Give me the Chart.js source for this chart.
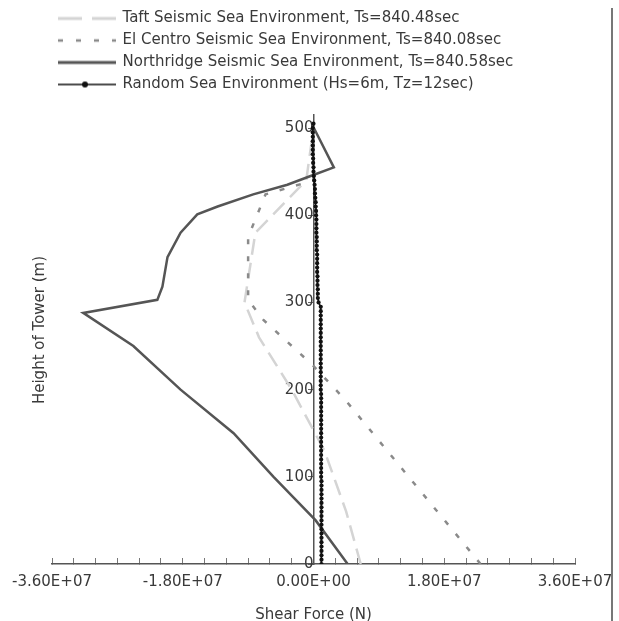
<!DOCTYPE html>
<html><head><meta charset="utf-8">
<script src="https://cdn.jsdelivr.net/npm/chart.js@4"></script>
<style>html,body{margin:0;padding:0;background:#fff}#wrap{position:relative;width:619px;height:621px}</style>
</head><body><div id="wrap"><canvas id="c" width="619" height="621"></canvas></div>
<script>
// ---------- data ----------
const seriesNames = [
  'Taft Seismic Sea Environment, Ts=840.48sec',
  'El Centro Seismic Sea Environment, Ts=840.08sec',
  'Northridge Seismic Sea Environment, Ts=840.58sec',
  'Random Sea Environment (Hs=6m, Tz=12sec)'
];
const xTickValues = [-3.6e7, -1.8e7, 0, 1.8e7, 3.6e7];
const xTickLabels = ['-3.60E+07', '-1.80E+07', '0.00E+00', '1.80E+07', '3.60E+07'];
const yTickValues = [0, 100, 200, 300, 400, 500];

const taftHeights = [0, 60, 130, 200, 260, 300, 380, 440, 500];
const taftForces  = [6.5e6, 4.5e6, 1.5e6, -3.0e6, -7.5e6, -9.5e6, -8.0e6, -1.0e6, 0];

const elCentroHeights = [0, 188, 228, 280, 303, 375, 424, 440, 500];
const elCentroForces  = [2.3e7, 4.4e6, -1.0e5, -6.9e6, -9.0e6, -9.0e6, -6.6e6, 0, 0];

const northridgeHeights = [0, 50, 100, 150, 200, 250, 288, 303, 318, 352, 380, 401, 410, 424, 435, 445, 455, 501];
const northridgeForces  = [4.7e6, 0.3e6, -5.5e6, -11.0e6, -18.3e6, -24.8e6, -31.7e6, -21.5e6, -20.8e6, -20.1e6, -18.3e6, -16.0e6, -13.2e6, -8.3e6, -3.6e6, -0.4e6, 2.8e6, 0];

const randomHeights = [0,5,10,15,20,25,30,35,40,45,50,55,60,65,70,75,80,85,90,95,
  100,105,110,115,120,125,130,135,140,145,150,155,160,165,170,175,180,185,190,195,
  200,205,210,215,220,225,230,235,240,245,250,255,260,265,270,275,280,285,290,295,
  300,305,310,315,320,325,330,335,340,345,350,355,360,365,370,375,380,385,390,395,
  400,405,410,415,420,425,430,435,440,445,450,455,460,465,470,475,480,485,490,495,500,505];
const randomForces = [1.1e6,1.1e6,1.1e6,1.1e6,1.1e6,1.1e6,1.1e6,1.1e6,1.1e6,1.1e6,1.1e6,1.1e6,1.1e6,1.1e6,1.1e6,1.1e6,1.1e6,1.1e6,1.1e6,1.1e6,
  1.05e6,1.05e6,1.05e6,1.05e6,1.05e6,1.05e6,1.05e6,1.05e6,1.05e6,1.05e6,1.05e6,1.05e6,1.05e6,1.05e6,1.05e6,1.05e6,1.05e6,1.05e6,1.05e6,1.05e6,
  1.0e6,1.0e6,1.0e6,1.0e6,1.0e6,1.0e6,1.0e6,1.0e6,1.0e6,1.0e6,1.0e6,1.0e6,1.0e6,1.0e6,1.0e6,1.0e6,1.0e6,1.0e6,1.0e6,1.0e6,
  0.7e6,0.6e6,0.6e6,0.6e6,0.55e6,0.55e6,0.55e6,0.5e6,0.5e6,0.5e6,
  0.5e6,0.5e6,0.45e6,0.45e6,0.45e6,0.45e6,0.4e6,0.4e6,0.4e6,0.4e6,
  0.35e6,0.35e6,0.3e6,0.3e6,0.25e6,0.2e6,0.2e6,0.15e6,0.1e6,0.05e6,
  0,0,-0.05e6,-0.05e6,-0.1e6,-0.1e6,-0.1e6,-0.1e6,-0.1e6,-0.1e6,-0.1e6,0];

// ---------- helpers ----------
const FONT = 'DejaVu Sans';
const TEXT = '#3a3a3a';
function pts(hs, fs) { return hs.map((h, i) => ({x: fs[i], y: h})); }

function legendIcon(kind) {
  const c = document.createElement('canvas');
  c.width = 58; c.height = 14;
  const g = c.getContext('2d');
  g.lineCap = 'butt';
  if (kind === 0) { g.strokeStyle = '#d4d4d4'; g.lineWidth = 3; g.setLineDash([24, 10]); }
  else if (kind === 1) { g.strokeStyle = '#8a8a8a'; g.lineWidth = 2.5; g.setLineDash([5, 13]); }
  else if (kind === 2) { g.strokeStyle = '#555'; g.lineWidth = 3; }
  else { g.strokeStyle = '#111'; g.lineWidth = 1.5; }
  g.beginPath(); g.moveTo(0, 7); g.lineTo(58, 7); g.stroke();
  if (kind === 3) { g.fillStyle = '#111'; g.beginPath(); g.arc(27, 7, 3, 0, Math.PI * 2); g.fill(); }
  return c;
}
const icons = [0, 1, 2, 3].map(legendIcon);

const extras = {
  id: 'extras',
  beforeInit(chart) {
    const lg = chart.legend;
    if (lg) {
      const orig = lg.fit;
      lg.fit = function () { orig.call(this); this.height = 111; };
    }
  },
  afterDraw(chart) {
    const ctx = chart.ctx;
    ctx.save();
    ctx.font = '15px "' + FONT + '"';
    ctx.fillStyle = TEXT;
    ctx.textAlign = 'center';
    ctx.textBaseline = 'middle';
    ctx.translate(40, 330);
    ctx.rotate(-Math.PI / 2);
    ctx.fillText('Height of Tower (m)', 0, 0);
    ctx.restore();
    ctx.save();
    ctx.fillStyle = '#777';
    ctx.fillRect(611, 8, 2, 613);
    ctx.restore();
  }
};

new Chart(document.getElementById('c'), {
  type: 'scatter',
  data: {
    datasets: [
      { label: seriesNames[0], data: pts(taftHeights, taftForces), showLine: true, borderColor: '#d4d4d4', borderWidth: 2.5, borderDash: [16, 8], pointRadius: 0, order: 4 },
      { label: seriesNames[1], data: pts(elCentroHeights, elCentroForces), showLine: true, borderColor: '#8a8a8a', borderWidth: 2.5, borderDash: [5, 12], pointRadius: 0, order: 3 },
      { label: seriesNames[2], data: pts(northridgeHeights, northridgeForces), showLine: true, borderColor: '#555', borderWidth: 2.5, pointRadius: 0, order: 2 },
      { label: seriesNames[3], data: pts(randomHeights, randomForces), showLine: true, borderColor: '#111', borderWidth: 1.5, pointRadius: 2.1, pointBackgroundColor: '#111', pointBorderWidth: 0, order: 1 }
    ]
  },
  options: {
    responsive: false,
    animation: false,
    layout: { padding: { left: 52, right: 44, top: 4, bottom: -3 } },
    plugins: {
      tooltip: { enabled: false },
      legend: {
        position: 'top', align: 'start',
        labels: {
          usePointStyle: true, pointStyleWidth: 56, padding: 7,
          color: TEXT, font: { family: FONT, size: 15 },
          sort: (a, b) => a.datasetIndex - b.datasetIndex,
          generateLabels(chart) {
            const items = Chart.defaults.plugins.legend.labels.generateLabels(chart);
            items.forEach((it) => { it.pointStyle = icons[it.datasetIndex]; });
            return items;
          }
        }
      }
    },
    scales: {
      x: {
        type: 'linear', position: 'bottom', min: -3.6e7, max: 3.6e7,
        afterFit(scale) { scale.paddingLeft = 0; scale.paddingRight = 0; },
        ticks: {
          stepSize: 3e6, autoSkip: false, maxRotation: 0, minRotation: 0, padding: 15,
          color: TEXT, font: { family: FONT, size: 15 },
          callback(v) { const k = xTickValues.findIndex(t => Math.abs(t - v) < 1); return k >= 0 ? xTickLabels[k] : ''; }
        },
        grid: { drawOnChartArea: false, tickLength: -6, color: '#777', tickWidth: 1 },
        border: { color: '#555', width: 1.5 },
        title: { display: true, text: 'Shear Force (N)', color: TEXT, font: { family: FONT, size: 15 }, padding: { top: 0, bottom: 0 } }
      },
      y: {
        type: 'linear', position: { x: 0 }, min: 0, max: 515,
        ticks: {
          stepSize: 100, includeBounds: false, color: TEXT, font: { family: FONT, size: 15 },
          callback(v) { return yTickValues.includes(v) ? String(v) : ''; }
        },
        grid: { drawOnChartArea: false, tickLength: 5, color: '#666' },
        border: { color: '#555', width: 1.5 }
      }
    }
  },
  plugins: [extras]
});
</script></body></html>
